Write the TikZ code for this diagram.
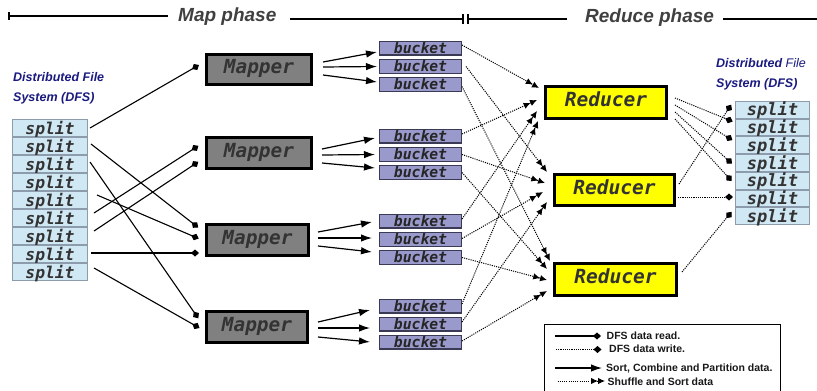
\documentclass[tikz,border=0pt]{standalone}
\usepackage{fontspec}
\setmainfont{Liberation Sans}
\setmonofont{DejaVu Sans Mono}
\usetikzlibrary{arrows.meta}
\definecolor{splitfill}{HTML}{D0E7F4}
\definecolor{splitdraw}{HTML}{8C9CAC}
\definecolor{bucketfill}{HTML}{9999CC}
\definecolor{bucketdraw}{HTML}{3A3A55}
\definecolor{mapfill}{HTML}{808080}
\definecolor{redfill}{HTML}{FFFF00}
\definecolor{txtgray}{HTML}{333333}
\definecolor{dfsblue}{HTML}{1A1A80}
\definecolor{hdrgray}{HTML}{404040}
\newcommand\monoF[1]{\ttfamily\bfseries\itshape\fontsize{#1}{#1}\selectfont}
\begin{document}
\begin{tikzpicture}[x=1pt,y=-1pt,
  splitL/.style={draw=splitdraw, fill=splitfill, line width=1pt, minimum width=75pt, minimum height=17pt, inner sep=0pt, text=txtgray, font=\monoF{16.3}, text height=12.4pt, text depth=0.4pt},
  splitR/.style={draw=splitdraw, fill=splitfill, line width=1pt, minimum width=74pt, minimum height=16.7pt, inner sep=0pt, text=txtgray, font=\monoF{17}, text height=12.6pt, text depth=0.4pt},
  mapperbox/.style={draw=black, fill=mapfill, line width=3pt, minimum height=30pt, inner sep=0pt, text=txtgray, font=\monoF{19.4}, text height=14pt, text depth=5.6pt},
  reducerbox/.style={draw=black, fill=redfill, line width=3pt, inner sep=0pt, text=txtgray, font=\monoF{19.5}, text height=14pt, text depth=5.6pt},
  bucketbox/.style={draw=bucketdraw, fill=bucketfill, line width=1.2pt, minimum width=81.8pt, minimum height=13.8pt, inner sep=0pt, text=black!85, font=\monoF{14.7}, text height=10.5pt, text depth=0.5pt},
  hdr/.style={font=\bfseries\itshape\fontsize{19}{19}\selectfont, text=hdrgray, inner sep=0pt},
  hdrline/.style={line width=2.7pt},
  dfs/.style={font=\bfseries\itshape\fontsize{12.5}{12.5}\selectfont, text=dfsblue, inner sep=0pt},
  readl/.style={line width=1.1pt, -{Diamond[length=8pt,width=7pt]}},
  writel/.style={line width=1pt, dash pattern=on 1.1pt off 1.1pt, -{Diamond[length=8pt,width=7pt]}},
  sortl/.style={line width=1.2pt, -{Latex[length=11pt,width=7.5pt]}},
  shuf/.style={line width=1pt, dash pattern=on 1.1pt off 1.1pt, -{Latex[length=7pt,width=6.5pt]Latex[length=7pt,width=6.5pt]}},
  lgtext/.style={font=\bfseries\fontsize{10.5}{10.5}\selectfont, text=black!90, inner sep=0pt, anchor=base west}
]
\useasboundingbox (0,0) rectangle (817,391);
\fill[white] (0,0) rectangle (817,391);

% header
\coordinate (h0) at (9,16);
\coordinate (h1) at (168,16);
\node[hdr, anchor=base west] (mapph) at (178,21) {Map phase};
\coordinate (h2) at (290,19);
\coordinate (h3) at (463,19);
\coordinate (h4) at (468,19);
\coordinate (h5) at (567,19);
\node[hdr, anchor=base west] (redph) at (585,22) {Reduce phase};
\coordinate (h6) at (723,19);
\coordinate (h7) at (817,19);
\draw[hdrline] (h0) -- (h1);
\draw[line width=1.2pt] ([yshift=4pt]h0) -- ([yshift=-4pt]h0);
\draw[hdrline] (h2) -- (h3);
\draw[line width=1.2pt] ([yshift=5pt]h3) -- ([yshift=-5pt]h3);
\draw[line width=1.2pt] ([yshift=5pt]h4) -- ([yshift=-5pt]h4);
\draw[hdrline] (h4) -- (h5);
\draw[hdrline] (h6) -- (h7);

% DFS labels
\node[dfs, anchor=base west] (dfsl1) at (13,81) {Distributed File};
\node[dfs, anchor=base west] (dfsl2) at (13,101) {System (DFS)};
\node[dfs, anchor=base west] (dfsr1) at (716,67) {Distributed \mdseries File};
\node[dfs, anchor=base west] (dfsr2) at (716,87) {System (DFS)};

% left splits
\foreach \i in {1,...,9} \node[splitL] (L\i) at (50,{119+18*(\i-0.5)}) {split};

% mappers
\node[mapperbox, minimum width=105pt] (M1) at (259,69.5) {Mapper};
\node[mapperbox, minimum width=105pt, minimum height=31pt] (M2) at (259,153) {Mapper};
\node[mapperbox, minimum width=102pt, minimum height=31pt] (M3) at (257.5,240) {Mapper};
\node[mapperbox, minimum width=101pt, minimum height=31pt] (M4) at (257,327) {Mapper};

% buckets
\node[bucketbox] (B1a) at (420.5,48) {bucket};
\node[bucketbox] (B1b) at (420.5,66.5) {bucket};
\node[bucketbox] (B1c) at (420.5,84.5) {bucket};
\node[bucketbox] (B2a) at (420.5,136) {bucket};
\node[bucketbox] (B2b) at (420.5,154.5) {bucket};
\node[bucketbox] (B2c) at (420.5,172.5) {bucket};
\node[bucketbox] (B3a) at (420.5,221) {bucket};
\node[bucketbox] (B3b) at (420.5,239.5) {bucket};
\node[bucketbox] (B3c) at (420.5,257.5) {bucket};
\node[bucketbox] (B4a) at (420.5,306) {bucket};
\node[bucketbox] (B4b) at (420.5,324) {bucket};
\node[bucketbox] (B4c) at (420.5,342) {bucket};

% reducers
\node[reducerbox, minimum width=121pt, minimum height=32pt] (R1) at (606,102.5) {Reducer};
\node[reducerbox, minimum width=120pt, minimum height=31pt] (R2) at (614.5,190) {Reducer};
\node[reducerbox, minimum width=122pt, minimum height=32pt] (R3) at (615.5,279.5) {Reducer};

% right splits
\foreach \i in {1,...,7} \node[splitR] (S\i) at (772.5,{101+17.71*(\i-0.5)}) {split};

% mapper input markers
\coordinate (m1a) at (199,65);
\coordinate (m2a) at (198.4,145.8);
\coordinate (m2b) at (198.3,161.8);
\coordinate (m3a) at (198.2,227.5);
\coordinate (m3b) at (198.7,238.6);
\coordinate (m3c) at (199,253);
\coordinate (m4a) at (198.3,318.3);
\coordinate (m4b) at (199.5,328);

\draw[readl] ([xshift=2pt]L1.east) -- (m1a);
\draw[readl] ([xshift=3pt,yshift=2pt]L2.east) -- (m3a);
\draw[readl] ([xshift=2pt,yshift=2pt]L3.east) -- (m4a);
\draw[readl] ([xshift=9pt,yshift=5pt]L5.east) -- (m3b);
\draw[readl] ([xshift=6pt,yshift=5pt]L6.east) -- (m2a);
\draw[readl] ([xshift=6pt,yshift=5pt]L7.east) -- (m2b);
\draw[readl] ([xshift=3pt,yshift=1pt]L8.east) -- (m3c);
\draw[readl] ([xshift=6pt,yshift=4pt]L9.east) -- (m4b);

% mapper -> buckets
\draw[sortl] ([xshift=10pt,yshift=7.5pt]M1.east) -- ([xshift=-2pt,yshift=-4pt]B1a.west);
\draw[sortl] ([xshift=10pt,yshift=2.5pt]M1.east) -- ([xshift=-2pt]B1b.west);
\draw[sortl] ([xshift=10pt,yshift=-5.5pt]M1.east) -- ([xshift=-2pt,yshift=2.5pt]B1c.west);
\draw[sortl] ([xshift=9pt,yshift=4pt]M2.east) -- ([xshift=-4pt,yshift=-2pt]B2a.west);
\draw[sortl] ([xshift=9pt,yshift=-2pt]M2.east) -- ([xshift=-4pt]B2b.west);
\draw[sortl] ([xshift=9pt,yshift=-10pt]M2.east) -- ([xshift=-4pt,yshift=4.5pt]B2c.west);
\draw[sortl] ([xshift=8pt,yshift=8pt]M3.east) -- ([xshift=-7pt,yshift=-1pt]B3a.west);
\draw[sortl] ([xshift=8pt,yshift=2pt]M3.east) -- ([xshift=-7pt,yshift=1.5pt]B3b.west);
\draw[sortl] ([xshift=8pt,yshift=-6pt]M3.east) -- ([xshift=-7pt,yshift=5.5pt]B3c.west);
\draw[sortl] ([xshift=9pt,yshift=5pt]M4.east) -- ([xshift=-9pt,yshift=-4pt]B4a.west);
\draw[sortl] ([xshift=9pt,yshift=-1pt]M4.east) -- ([xshift=-9pt,yshift=-4pt]B4b.west);
\draw[sortl] ([xshift=9pt,yshift=-10pt]M4.east) -- ([xshift=-9pt]B4c.west);

% shuffle targets
\coordinate (r1a) at (539,88);
\coordinate (r1b) at (537,100);
\coordinate (r1c) at (537,111);
\coordinate (r1d) at (538,121);
\coordinate (r2a) at (547,172);
\coordinate (r2b) at (545,183);
\coordinate (r2c) at (543,192);
\coordinate (r2d) at (547,202);
\coordinate (r3a) at (550,261);
\coordinate (r3b) at (547,269);
\coordinate (r3c) at (547,280);
\coordinate (r3d) at (547,291);

\draw[shuf] ([yshift=3pt]B1a.east) -- (r1a);
\draw[shuf] ([yshift=2pt]B2a.east) -- (r1b);
\draw[shuf] ([yshift=2pt]B3a.east) -- (r1c);
\draw[shuf] ([yshift=2pt]B4a.east) -- (r1d);
\draw[shuf] ([xshift=4pt]B1b.east) -- (r2a);
\draw[shuf] (B2b.east) -- (r2b);
\draw[shuf] ([yshift=1pt]B3b.east) -- (r2c);
\draw[shuf] ([yshift=2pt]B4b.east) -- (r2d);
\draw[shuf] ([yshift=-2pt]B1c.east) -- (r3a);
\draw[shuf] (B2c.east) -- (r3b);
\draw[shuf] (B3c.east) -- (r3c);
\draw[shuf] ([yshift=1pt]B4c.east) -- (r3d);

% reducer -> DFS
\coordinate (d1) at (731.2,104.7);
\coordinate (d2) at (732.7,121.5);
\coordinate (d3) at (732.4,140.1);
\coordinate (d4) at (732,163.7);
\coordinate (d5) at (731.7,181);
\coordinate (d6) at (733,197);
\coordinate (d7) at (731.5,211.9);

\draw[writel] ([xshift=7pt,yshift=4.5pt]R1.east) -- (d2);
\draw[writel] ([xshift=7pt,yshift=-2.5pt]R1.east) -- (d3);
\draw[writel] ([xshift=7pt,yshift=-9.5pt]R1.east) -- (d4);
\draw[writel] ([xshift=7pt,yshift=-16.5pt]R1.east) -- (d5);
\draw[writel] ([xshift=3pt,yshift=6pt]R2.east) -- (d1);
\draw[writel] ([xshift=2pt,yshift=-7pt]R2.east) -- (d6);
\draw[writel] ([xshift=4pt,yshift=7.5pt]R3.east) -- (d7);

% legend
\node[draw=black, line width=0.8pt, fill=white, minimum width=236pt, minimum height=80pt, inner sep=0pt, anchor=north west] (legend) at (543.5,324) {};
\coordinate (lg1s) at (555,336);
\coordinate (lg1e) at (601,336);
\coordinate (lg2s) at (556,349.5);
\coordinate (lg2e) at (601.5,349.5);
\coordinate (lg3s) at (555,368);
\coordinate (lg3e) at (602,368);
\coordinate (lg4s) at (557.5,381);
\coordinate (lg4e) at (605,381);
\draw[readl] (lg1s) -- (lg1e);
\draw[writel] (lg2s) -- (lg2e);
\draw[sortl] (lg3s) -- (lg3e);
\draw[shuf] (lg4s) -- (lg4e);
\node[lgtext] (lgt1) at (606.5,339.5) {DFS data read.};
\node[lgtext] (lgt2) at (609,352.7) {DFS data write.};
\node[lgtext] (lgt3) at (606,371) {Sort, Combine and Partition data.};
\node[lgtext] (lgt4) at (607.5,385) {Shuffle and Sort data};
\end{tikzpicture}
\end{document}
